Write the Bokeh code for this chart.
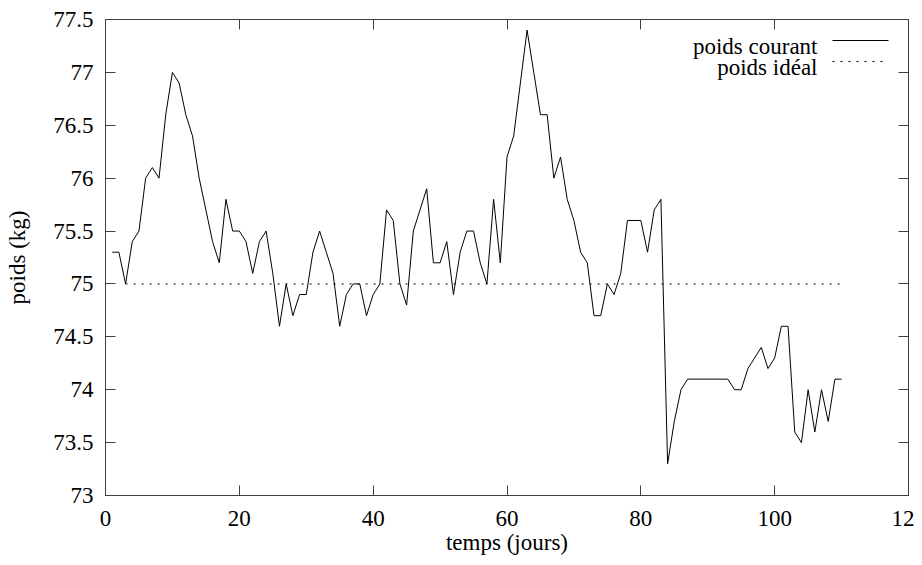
from bokeh.plotting import figure
from bokeh.models import FixedTicker, Range1d, LinearAxis, Label, Arrow, CustomJSTickFormatter
from bokeh.embed import file_html
from bokeh.resources import INLINE

days = list(range(1, 111))
poids_courant = [
    75.3, 75.3, 75.0, 75.4, 75.5, 76.0, 76.1, 76.0, 76.6, 77.0,
    76.9, 76.6, 76.4, 76.0, 75.7, 75.4, 75.2, 75.8, 75.5, 75.5,
    75.4, 75.1, 75.4, 75.5, 75.1, 74.6, 75.0, 74.7, 74.9, 74.9,
    75.3, 75.5, 75.3, 75.1, 74.6, 74.9, 75.0, 75.0, 74.7, 74.9,
    75.0, 75.7, 75.6, 75.0, 74.8, 75.5, 75.7, 75.9, 75.2, 75.2,
    75.4, 74.9, 75.3, 75.5, 75.5, 75.2, 75.0, 75.8, 75.2, 76.2,
    76.4, 76.9, 77.4, 77.0, 76.6, 76.6, 76.0, 76.2, 75.8, 75.6,
    75.3, 75.2, 74.7, 74.7, 75.0, 74.9, 75.1, 75.6, 75.6, 75.6,
    75.3, 75.7, 75.8, 73.3, 73.7, 74.0, 74.1, 74.1, 74.1, 74.1,
    74.1, 74.1, 74.1, 74.0, 74.0, 74.2, 74.3, 74.4, 74.2, 74.3,
    74.6, 74.6, 73.6, 73.5, 74.0, 73.6, 74.0, 73.7, 74.1, 74.1,
]
ideal_days = [3, 110]
poids_ideal = [75.0, 75.0]

x_ticks = [0, 20, 40, 60, 80, 100, 120]
x_tick_labels = ["0", "20", "40", "60", "80", "100", "12"]  # last one appears cut in the reference
y_ticks = [73.0, 73.5, 74.0, 74.5, 75.0, 75.5, 76.0, 76.5, 77.0, 77.5]
y_tick_labels = ["73", "73.5", "74", "74.5", "75", "75.5", "76", "76.5", "77", "77.5"]

series_labels = ["poids courant", "poids idéal"]
x_title = "temps (jours)"
y_title = "poids (kg)"

FONT = "Liberation Serif"
FS = "23px"
FRAME = "#404040"

# frame edges (canvas pixels)
FL, FT, FR, FB = 105, 19, 908, 498
W, H = 914, 557
p = figure(width=W, height=H, output_backend="svg", toolbar_location=None,
           x_range=Range1d(0, 120), y_range=Range1d(73, 77.5),
           min_border_left=FL, min_border_top=FT, min_border_right=W - FR,
           min_border_bottom=H - FB)
p.xgrid.visible = False
p.ygrid.visible = False
p.outline_line_color = FRAME
p.outline_line_width = 1
p.background_fill_color = "white"
p.border_fill_color = "white"

def style_axis(ax, ticks, labels=True):
    ax.ticker = FixedTicker(ticks=ticks)
    ax.major_tick_in = 10
    ax.major_tick_out = 0
    ax.major_tick_line_color = FRAME
    ax.minor_tick_line_color = None
    ax.axis_line_color = FRAME
    ax.major_label_text_font = FONT
    ax.major_label_text_font_size = FS if labels else "1px"
    ax.major_label_text_color = "black"
    ax.axis_label_text_font = FONT
    ax.axis_label_text_font_size = FS
    ax.axis_label_text_font_style = "normal"
    ax.axis_label_text_color = "black"
    if not labels:
        ax.formatter = CustomJSTickFormatter(code="return ''")
        ax.major_label_standoff = 0

xa = p.xaxis[0]
style_axis(xa, x_ticks)
xa.axis_label = x_title
xa.major_label_overrides = {t: l for t, l in zip(x_ticks, x_tick_labels)}
xa.major_label_standoff = 15
xa.axis_label_standoff = 1

ya = p.yaxis[0]
style_axis(ya, y_ticks)
ya.axis_label = y_title
ya.major_label_overrides = {t: l for t, l in zip(y_ticks, y_tick_labels)}
ya.major_label_standoff = 12
ya.axis_label_standoff = 20

top = LinearAxis()
style_axis(top, x_ticks, labels=False)
p.add_layout(top, "above")
right = LinearAxis()
style_axis(right, y_ticks, labels=False)
p.add_layout(right, "right")

p.line(days, poids_courant, line_color="black", line_width=1)
p.line(ideal_days, poids_ideal, line_color="black", line_width=1, line_dash="2 6")

# gnuplot-style key: text then sample, top right (screen units, frame-relative)
rows = [(49, 43, "solid"), (70, 64, "2 6")]
for (yb, yl, dash), txt in zip(rows, series_labels):
    p.add_layout(Label(x=817 - FL, y=FB - yb, x_units="screen", y_units="screen", text=txt,
                       text_font=FONT, text_font_size=FS, text_align="right",
                       text_baseline="alphabetic", text_color="black"))
    p.add_layout(Arrow(x_start=832 - FL, y_start=FB - yl, x_end=888 - FL, y_end=FB - yl,
                       start_units="screen", end_units="screen",
                       start=None, end=None, line_color="black", line_width=1,
                       line_dash=dash))

open("out.html", "w").write(file_html(p, INLINE))
